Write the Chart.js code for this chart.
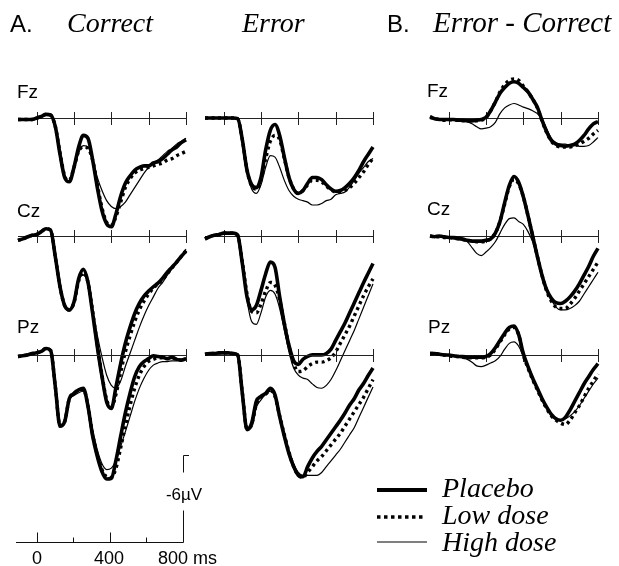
<!DOCTYPE html>
<html>
<head>
<meta charset="utf-8">
<script src="https://cdn.jsdelivr.net/npm/chart.js@4.4.0/dist/chart.umd.min.js"></script>
<style>
  html, body { margin: 0; padding: 0; background: #fff; }
  #page { position: relative; width: 619px; height: 566px; overflow: hidden; background: #fff; }
  #page canvas { position: absolute; }
  .lbl { position: absolute; white-space: nowrap; color: #000; line-height: 1; }
  .sans { font-family: 'Liberation Sans', Arial, sans-serif; }
  .serif { font-family: 'Liberation Serif', 'Times New Roman', serif; font-style: italic; }
</style>
</head>
<body>
<div id="page">
  <div class="lbl sans" style="left:10px; top:11.7px; font-size:24px;">A.</div>
  <div class="lbl serif" style="left:67px; top:8.5px; font-size:28px;">Correct</div>
  <div class="lbl serif" style="left:242px; top:8.5px; font-size:28px;">Error</div>
  <div class="lbl sans" style="left:387px; top:11.7px; font-size:24px;">B.</div>
  <div class="lbl serif" style="left:433px; top:7.7px; font-size:29px;">Error - Correct</div>

  <div class="lbl sans" style="left:17px; top:82px; font-size:19px;">Fz</div>
  <div class="lbl sans" style="left:17px; top:201px; font-size:19px;">Cz</div>
  <div class="lbl sans" style="left:17px; top:317px; font-size:19px;">Pz</div>
  <div class="lbl sans" style="left:427px; top:81px; font-size:19px;">Fz</div>
  <div class="lbl sans" style="left:427px; top:199px; font-size:19px;">Cz</div>
  <div class="lbl sans" style="left:428px; top:317px; font-size:19px;">Pz</div>

  <div class="lbl sans" style="left:164px; top:486px; width:40px; text-align:center; font-size:17px;">-6µV</div>
  <div class="lbl sans" style="left:27px; top:549px; width:20px; text-align:center; font-size:18px;">0</div>
  <div class="lbl sans" style="left:89px; top:549px; width:40px; text-align:center; font-size:18px;">400</div>
  <div class="lbl sans" style="left:158px; top:549px; font-size:18px;">800 ms</div>

  <svg style="position:absolute; left:0; top:0;" width="619" height="566">
    <line x1="377" y1="490" x2="427" y2="490" stroke="#000" stroke-width="4"/>
    <line x1="377" y1="517" x2="424" y2="517" stroke="#000" stroke-width="3.5" stroke-dasharray="3.5 3.5"/>
    <line x1="377" y1="542" x2="427" y2="542" stroke="#000" stroke-width="1.2"/>
  </svg>
  <div class="lbl serif" style="left:442px; top:474px; font-size:28px;">Placebo</div>
  <div class="lbl serif" style="left:442px; top:501px; font-size:28px;">Low dose</div>
  <div class="lbl serif" style="left:442px; top:528px; font-size:28px;">High dose</div>
</div>

<script>
// time points (ms) shared by every trace
const times = [-100, -75, -50, -25, 0, 25, 50, 75, 100, 125, 150, 175, 200, 225, 250, 275, 300,
  325, 350, 375, 400, 425, 450, 475, 500, 525, 550, 575, 600, 625, 650, 675, 700, 725, 750, 775, 800];
const tickTimes = [0, 200, 400, 600, 800];
const seriesNames = ['Placebo', 'Low dose', 'High dose'];

// scale bar: 0..800 ms, -6 µV
const scaleTimes = [0, 200, 400, 600, 800];
const scaleMajor = [true, false, true, false, true];
const scaleVolt = -6;

// A. Correct (µV, positive plotted down)
const corFzPlacebo = [0.1, 0.1, 0.1, 0.1, 0, -0.1, -0.25, -0.2, 0.6, 2.5, 4.1, 4.4, 3.4, 2.0, 1.2, 1.4, 2.9, 4.8, 6.4, 7.3, 7.5, 6.6, 5.4, 4.5, 4.0, 3.6, 3.4, 3.3, 3.3, 3.1, 3.0, 2.8, 2.5, 2.2, 2.0, 1.7, 1.5];
const corFzLow     = [0.1, 0.1, 0.1, 0.1, 0, -0.1, -0.25, -0.2, 0.6, 2.4, 4.0, 4.3, 3.4, 2.3, 2.0, 2.1, 2.9, 4.6, 6.2, 7.2, 7.4, 6.8, 5.8, 4.8, 4.2, 3.8, 3.6, 3.5, 3.4, 3.3, 3.2, 3.1, 2.9, 2.8, 2.6, 2.45, 2.3];
const corFzHigh    = [0.1, 0.1, 0.1, 0.1, 0, -0.1, -0.25, -0.2, 0.6, 2.5, 4.1, 4.4, 3.5, 2.4, 1.9, 2.0, 2.9, 4.1, 5.0, 5.7, 6.1, 6.25, 6.1, 5.8, 5.3, 4.8, 4.3, 3.8, 3.4, 3.1, 2.9, 2.6, 2.3, 2.1, 1.8, 1.6, 1.4];

const corCzPlacebo = [0.3, 0.2, 0.07, -0.05, -0.1, -0.3, -0.5, -0.4, 1.45, 3.5, 4.8, 5.1, 4.55, 2.95, 2.3, 3.2, 5.35, 7.65, 9.7, 11.45, 11.9, 10.4, 8.8, 7.4, 6.3, 5.35, 4.65, 4.15, 3.8, 3.5, 3.25, 2.9, 2.5, 2.15, 1.8, 1.4, 1.05];
const corCzLow     = [0.3, 0.2, 0.07, -0.05, -0.1, -0.3, -0.5, -0.4, 1.45, 3.5, 4.8, 5.1, 4.6, 3.1, 2.5, 3.2, 5.2, 7.5, 9.6, 11.3, 11.8, 10.9, 9.4, 8.0, 6.9, 5.9, 5.1, 4.5, 4.0, 3.6, 3.3, 3.0, 2.6, 2.2, 1.8, 1.4, 1.0];
const corCzHigh    = [0.3, 0.2, 0.07, -0.05, -0.1, -0.3, -0.5, -0.4, 1.45, 3.5, 4.8, 5.1, 4.6, 3.1, 2.7, 3.3, 5.1, 6.85, 8.35, 9.6, 10.3, 10.5, 10.0, 9.0, 8.1, 7.2, 6.3, 5.5, 4.8, 4.2, 3.6, 3.2, 2.7, 2.25, 1.8, 1.35, 0.9];

const corPzPlacebo = [0.1, 0.05, 0, -0.1, -0.15, -0.25, -0.45, -0.3, 2.2, 4.9, 4.6, 3.0, 2.65, 2.4, 2.3, 3.55, 5.6, 7.0, 8.05, 8.55, 8.5, 7.25, 5.6, 4.0, 2.65, 1.5, 0.8, 0.45, 0.25, 0.05, 0.1, 0.15, 0.25, 0.15, 0.3, 0.35, 0.25];
const corPzLow     = [0.1, 0.05, 0, -0.1, -0.15, -0.25, -0.45, -0.3, 2.2, 4.9, 4.6, 3.0, 2.65, 2.4, 2.4, 3.5, 5.5, 6.9, 7.9, 8.4, 8.45, 7.8, 6.4, 4.9, 3.5, 2.3, 1.4, 0.8, 0.45, 0.3, 0.2, 0.2, 0.25, 0.2, 0.3, 0.35, 0.25];
const corPzHigh    = [0.1, 0.05, 0, -0.1, -0.15, -0.25, -0.45, -0.3, 2.2, 4.8, 4.6, 3.1, 2.8, 2.6, 2.5, 3.55, 5.15, 6.55, 7.5, 7.9, 7.8, 7.25, 6.3, 5.3, 4.25, 3.2, 2.3, 1.6, 1.05, 0.7, 0.55, 0.45, 0.45, 0.4, 0.4, 0.35, 0.3];

// A. Error
const errFzPlacebo = [0, 0, 0, 0, 0, 0, 0, 0.05, 1.5, 3.6, 4.6, 4.8, 4.1, 2.2, 0.85, 0.45, 1.2, 2.7, 4.1, 4.9, 5.2, 5.0, 4.5, 4.1, 4.1, 4.25, 4.6, 4.9, 5.05, 5.0, 4.8, 4.5, 4.1, 3.6, 3.0, 2.5, 2.0];
const errFzLow     = [0, 0, 0, 0, 0, 0, 0, 0.05, 1.5, 3.6, 4.7, 4.9, 4.3, 2.8, 1.6, 1.2, 1.5, 2.8, 4.1, 4.9, 5.2, 5.0, 4.6, 4.3, 4.3, 4.4, 4.7, 4.95, 5.1, 5.1, 5.0, 4.8, 4.5, 4.1, 3.7, 3.2, 2.8];
const errFzHigh    = [0, 0, 0, 0, 0, 0, 0, 0.05, 1.5, 3.7, 4.9, 5.2, 4.6, 3.4, 2.6, 2.7, 3.4, 4.3, 5.0, 5.4, 5.6, 5.7, 5.8, 6.0, 6.0, 5.9, 5.7, 5.6, 5.3, 5.2, 5.1, 4.75, 4.3, 3.8, 3.4, 3.0, 2.8];

const errCzPlacebo = [0.2, 0.05, -0.05, -0.1, -0.2, -0.2, -0.2, -0.05, 1.9, 4.2, 5.1, 4.8, 3.75, 2.6, 1.8, 2.15, 4.2, 6.05, 7.55, 8.6, 8.85, 8.5, 8.3, 8.2, 8.2, 8.2, 8.1, 7.8, 7.2, 6.6, 6.0, 5.3, 4.6, 3.9, 3.2, 2.55, 1.9];
const errCzLow     = [0.2, 0.05, -0.05, -0.1, -0.2, -0.2, -0.2, -0.05, 1.8, 4.0, 5.2, 5.3, 4.7, 3.8, 3.2, 3.4, 4.4, 6.0, 7.6, 8.8, 9.35, 9.3, 9.0, 8.8, 8.7, 8.7, 8.6, 8.4, 8.0, 7.4, 6.8, 6.2, 5.5, 4.8, 4.1, 3.5, 2.95];
const errCzHigh    = [0.2, 0.05, -0.05, -0.1, -0.2, -0.2, -0.2, -0.05, 1.8, 4.4, 5.9, 6.1, 5.3, 4.2, 3.75, 4.0, 5.0, 6.5, 8.0, 9.1, 9.6, 9.8, 9.9, 10.2, 10.45, 10.5, 10.3, 9.9, 9.3, 8.6, 7.9, 7.2, 6.5, 5.7, 4.9, 4.1, 3.3];

const errPzPlacebo = [-0.05, -0.1, -0.1, -0.15, -0.15, -0.15, -0.1, 0.0, 2.65, 5.15, 4.7, 3.2, 2.85, 2.65, 2.3, 2.75, 4.25, 5.6, 6.8, 7.7, 8.3, 8.4, 7.7, 7.1, 6.65, 6.3, 5.85, 5.4, 4.95, 4.5, 4.0, 3.45, 3.0, 2.4, 1.95, 1.4, 0.9];
const errPzLow     = [-0.05, -0.1, -0.1, -0.15, -0.15, -0.15, -0.1, 0.0, 2.6, 5.1, 4.8, 3.4, 2.9, 2.7, 2.45, 2.85, 4.2, 5.5, 6.7, 7.7, 8.3, 8.45, 8.1, 7.7, 7.3, 7.0, 6.6, 6.2, 5.8, 5.4, 4.9, 4.4, 3.9, 3.4, 2.9, 2.3, 1.7];
const errPzHigh    = [-0.05, -0.1, -0.1, -0.15, -0.15, -0.15, -0.1, 0.0, 2.5, 5.0, 5.0, 3.6, 3.1, 2.7, 2.5, 2.9, 4.1, 5.4, 6.6, 7.5, 8.1, 8.3, 8.3, 8.3, 8.3, 8.1, 7.7, 7.3, 6.9, 6.5, 6.0, 5.5, 5.0, 4.3, 3.6, 2.9, 2.2];

// B. Error - Correct
const difFzPlacebo = [-0.05, 0.05, 0.1, 0.1, 0.1, 0.1, 0.15, 0.15, 0.2, 0.2, 0.15, 0.1, -0.05, -0.5, -1.1, -1.7, -2.1, -2.4, -2.5, -2.4, -2.1, -1.8, -1.3, -0.75, 0.15, 0.95, 1.55, 1.8, 1.9, 1.95, 1.9, 1.8, 1.55, 1.2, 0.75, 0.4, 0.25];
const difFzLow     = [-0.1, 0.05, 0.1, 0.15, 0.1, 0.15, 0.15, 0.2, 0.2, 0.2, 0.2, 0.15, 0.0, -0.5, -1.1, -1.8, -2.3, -2.6, -2.7, -2.6, -2.2, -1.8, -1.3, -0.7, 0.2, 1.0, 1.6, 1.9, 2.0, 2.0, 2.0, 1.9, 1.8, 1.6, 1.4, 1.1, 0.85];
const difFzHigh    = [0, 0.05, 0.1, 0.1, 0.1, 0.1, 0.1, 0.15, 0.25, 0.4, 0.6, 0.75, 0.7, 0.6, 0.3, -0.3, -0.7, -0.9, -1.0, -0.9, -0.75, -0.65, -0.5, -0.3, 0.05, 0.75, 1.4, 1.7, 1.8, 1.8, 1.9, 1.9, 1.95, 1.95, 1.9, 1.65, 1.35];

const difCzPlacebo = [0.0, 0.05, 0.0, 0.05, 0.1, 0.1, 0.15, 0.2, 0.3, 0.35, 0.35, 0.35, 0.3, 0.2, -0.2, -1.0, -2.3, -3.5, -4.1, -3.7, -2.7, -1.4, 0.0, 1.4, 2.7, 3.7, 4.3, 4.6, 4.65, 4.5, 4.2, 3.8, 3.3, 2.7, 2.1, 1.4, 0.85];
const difCzLow     = [0.0, 0.05, 0.05, 0.1, 0.1, 0.15, 0.2, 0.25, 0.3, 0.35, 0.4, 0.4, 0.35, 0.2, -0.2, -1.0, -2.2, -3.4, -3.9, -3.6, -2.7, -1.4, 0.0, 1.4, 2.7, 3.8, 4.5, 4.9, 5.0, 5.0, 4.7, 4.3, 3.8, 3.3, 2.8, 2.3, 1.8];
const difCzHigh    = [0.0, 0.05, 0.05, 0.1, 0.15, 0.2, 0.25, 0.3, 0.4, 0.8, 1.2, 1.35, 1.1, 0.8, 0.4, -0.2, -0.8, -1.2, -1.25, -1.0, -0.8, -0.3, 0.4, 1.5, 2.7, 3.7, 4.4, 4.9, 5.1, 5.1, 5.0, 4.8, 4.5, 4.0, 3.5, 3.0, 2.5];

const difPzPlacebo = [-0.1, -0.1, -0.05, 0.0, 0.0, 0.05, 0.1, 0.1, 0.15, 0.15, 0.15, 0.15, 0.1, -0.1, -0.5, -1.0, -1.5, -1.9, -2.0, -1.4, -0.1, 0.8, 1.6, 2.3, 3.0, 3.6, 4.1, 4.4, 4.5, 4.3, 3.8, 3.2, 2.6, 2.0, 1.5, 1.0, 0.6];
const difPzLow     = [-0.1, -0.1, -0.05, 0.0, 0.05, 0.1, 0.1, 0.15, 0.2, 0.2, 0.2, 0.2, 0.15, 0.0, -0.4, -0.9, -1.4, -1.8, -1.9, -1.4, 0.0, 0.9, 1.7, 2.4, 3.1, 3.7, 4.2, 4.5, 4.7, 4.8, 4.5, 4.0, 3.5, 2.9, 2.3, 1.8, 1.3];
const difPzHigh    = [-0.1, -0.1, -0.05, 0.0, 0.05, 0.1, 0.15, 0.2, 0.3, 0.5, 0.75, 0.8, 0.7, 0.55, 0.4, 0.1, -0.4, -0.8, -0.9, -0.6, 0.1, 0.9, 1.7, 2.4, 3.0, 3.6, 4.1, 4.4, 4.5, 4.4, 4.2, 3.9, 3.5, 3.0, 2.5, 2.0, 1.6];

// layout
const PX_PER_UV = 14.5;
const PLOT_W = 168;
const Y_MIN = -6, Y_MAX = 14;
const PAD = 6;

const panels = [
  { left: 18,  axisY: 118, series: [corFzPlacebo, corFzLow, corFzHigh] },
  { left: 18,  axisY: 236, series: [corCzPlacebo, corCzLow, corCzHigh] },
  { left: 18,  axisY: 355, series: [corPzPlacebo, corPzLow, corPzHigh] },
  { left: 205, axisY: 118, series: [errFzPlacebo, errFzLow, errFzHigh] },
  { left: 205, axisY: 236, series: [errCzPlacebo, errCzLow, errCzHigh] },
  { left: 205, axisY: 355, series: [errPzPlacebo, errPzLow, errPzHigh] },
  { left: 430, axisY: 118, series: [difFzPlacebo, difFzLow, difFzHigh] },
  { left: 430, axisY: 236, series: [difCzPlacebo, difCzLow, difCzHigh] },
  { left: 430, axisY: 355, series: [difPzPlacebo, difPzLow, difPzHigh] }
];

const lineStyles = [
  { borderWidth: 3.6, borderDash: [] },
  { borderWidth: 3.4, borderDash: [3, 3.5] },
  { borderWidth: 1.2, borderDash: [] }
];

// zero line with crossing ticks, drawn from the chart's own scales
const zeroAxis = {
  id: 'zeroAxis',
  beforeDatasetsDraw(chart) {
    const { ctx, scales: { x, y } } = chart;
    const y0 = Math.round(y.getPixelForValue(0)) + 0.5;
    ctx.save();
    ctx.strokeStyle = '#222';
    ctx.lineWidth = 1;
    ctx.beginPath();
    ctx.moveTo(x.getPixelForValue(times[0]), y0);
    ctx.lineTo(x.getPixelForValue(times[times.length - 1]), y0);
    tickTimes.forEach(t => {
      const px = Math.round(x.getPixelForValue(t)) + 0.5;
      ctx.moveTo(px, y0 - 6.5);
      ctx.lineTo(px, y0 + 6.5);
    });
    ctx.stroke();
    ctx.restore();
  }
};

const page = document.getElementById('page');
const firstLabel = page.firstElementChild;

function addCanvas(left, top, w, h) {
  const cv = document.createElement('canvas');
  cv.width = w;
  cv.height = h;
  cv.style.left = left + 'px';
  cv.style.top = top + 'px';
  page.insertBefore(cv, firstLabel);
  return cv;
}

panels.forEach(p => {
  const cv = addCanvas(p.left - PAD, p.axisY + Y_MIN * PX_PER_UV - PAD,
    PLOT_W + 2 * PAD, (Y_MAX - Y_MIN) * PX_PER_UV + 2 * PAD);
  new Chart(cv, {
    type: 'line',
    data: {
      datasets: p.series.map((vals, i) => ({
        label: seriesNames[i],
        data: vals.map((v, k) => ({ x: times[k], y: v })),
        borderColor: '#000',
        borderWidth: lineStyles[i].borderWidth,
        borderDash: lineStyles[i].borderDash,
        pointRadius: 0,
        fill: false,
        cubicInterpolationMode: 'monotone',
        clip: false
      }))
    },
    options: {
      responsive: false,
      animation: false,
      layout: { padding: PAD },
      plugins: { legend: { display: false }, tooltip: { enabled: false } },
      scales: {
        x: { type: 'linear', min: times[0], max: times[times.length - 1], display: false },
        y: { min: Y_MIN, max: Y_MAX, reverse: true, display: false }
      }
    },
    plugins: [zeroAxis]
  });
});

// calibration bar (time axis + voltage bar, broken where the label sits)
const scaleBar = {
  id: 'scaleBar',
  afterDraw(chart) {
    const { ctx, scales: { x, y } } = chart;
    const y0 = Math.round(y.getPixelForValue(0)) + 0.5;
    const xEnd = Math.round(x.getPixelForValue(scaleTimes[scaleTimes.length - 1])) + 0.5;
    const yTop = Math.round(y.getPixelForValue(scaleVolt)) + 0.5;
    ctx.save();
    ctx.strokeStyle = '#111';
    ctx.lineWidth = 1;
    ctx.beginPath();
    ctx.moveTo(x.getPixelForValue(x.min), y0);
    ctx.lineTo(xEnd, y0);
    scaleTimes.forEach((t, i) => {
      if (i === scaleTimes.length - 1) return;
      const px = Math.round(x.getPixelForValue(t)) + 0.5;
      ctx.moveTo(px, y0);
      ctx.lineTo(px, y0 - (scaleMajor[i] ? 10 : 5));
    });
    // lower part of the voltage bar
    ctx.moveTo(xEnd, y0);
    ctx.lineTo(xEnd, y0 - 32);
    // upper part with the small hook
    ctx.moveTo(xEnd, yTop + 17);
    ctx.lineTo(xEnd, yTop);
    ctx.lineTo(xEnd + 7, yTop);
    ctx.stroke();
    ctx.restore();
  }
};

const sbCanvas = addCanvas(16 - PAD, 542 - 8 * PX_PER_UV - PAD, 167 + 2 * PAD, 10 * PX_PER_UV + 2 * PAD);
new Chart(sbCanvas, {
  type: 'line',
  data: { datasets: [] },
  options: {
    responsive: false,
    animation: false,
    layout: { padding: PAD },
    plugins: { legend: { display: false }, tooltip: { enabled: false } },
    scales: {
      x: { type: 'linear', min: -115, max: 800, display: false },
      y: { min: -8, max: 2, reverse: true, display: false }
    }
  },
  plugins: [scaleBar]
});
</script>
</body>
</html>
